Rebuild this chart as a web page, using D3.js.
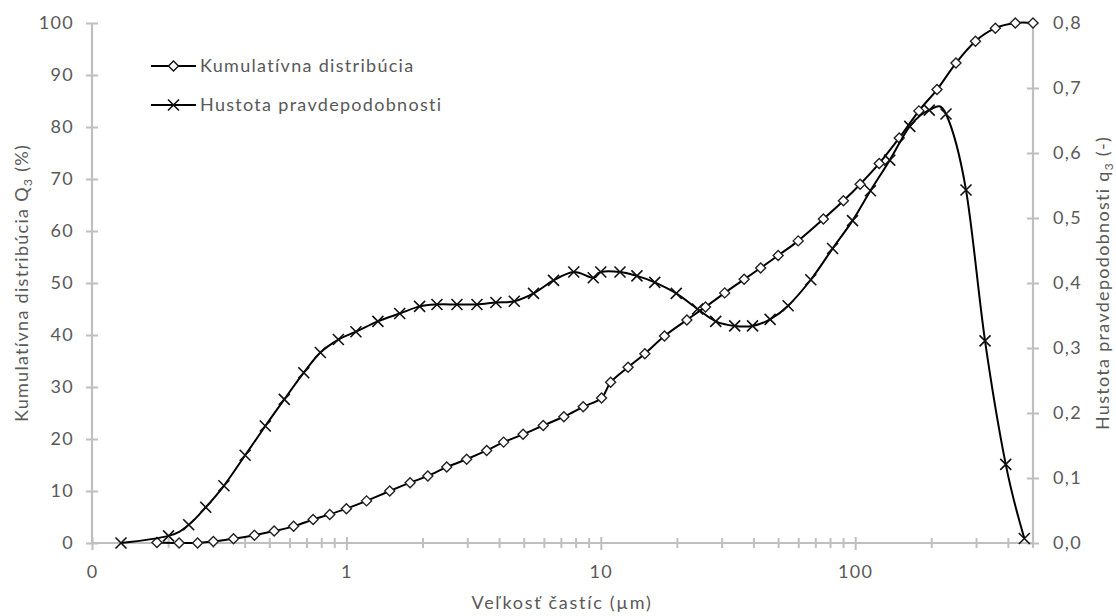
<!DOCTYPE html>
<html>
<head>
<meta charset="utf-8">
<script src="https://cdn.jsdelivr.net/npm/d3@7"></script>
<style>
  body { margin: 0; background: #fff; }
  text { font-family: Lato, "Open Sans", sans-serif; fill: #595959; letter-spacing: 1.3px; }
</style>
</head>
<body>
<svg id="chart" width="1116" height="616"></svg>
<script>
// Cumulative distribution Q3 (%) at each size class (µm)
const cumSize = [0.18, 0.22, 0.26, 0.30, 0.36, 0.435, 0.52, 0.62, 0.74, 0.86, 1.0, 1.2, 1.48, 1.78, 2.09, 2.48, 2.97, 3.56, 4.15, 4.95, 5.94, 7.16, 8.53, 10.07, 10.93, 12.8, 14.9, 17.8, 21.8, 25.8, 30.7, 36.6, 42.5, 49.8, 59.7, 75, 89.9, 104.6, 124.3, 149, 178, 209.7, 249, 297, 355.6, 426, 500];
const cumValue = [0.1, 0.0, 0.0, 0.3, 0.8, 1.5, 2.3, 3.2, 4.5, 5.5, 6.6, 8.1, 10.0, 11.6, 12.9, 14.6, 16.1, 17.8, 19.4, 20.9, 22.6, 24.3, 26.2, 27.9, 30.9, 33.8, 36.4, 39.8, 42.9, 45.4, 48.1, 50.7, 52.9, 55.3, 58.1, 62.3, 65.8, 69.0, 73.0, 77.9, 83.1, 87.2, 92.3, 96.5, 99.0, 100, 100];

// Probability density q3 (-) at mid-class sizes (µm)
const densSize = [0.13, 0.2, 0.24, 0.28, 0.33, 0.40, 0.48, 0.57, 0.68, 0.79, 0.93, 1.09, 1.33, 1.62, 1.94, 2.27, 2.72, 3.26, 3.87, 4.57, 5.44, 6.52, 7.83, 9.34, 10.0, 11.9, 13.87, 16.3, 19.8, 24.0, 28.3, 33.6, 39.5, 46.3, 54.5, 66.9, 81.5, 97.6, 114.8, 136.7, 163.9, 195.5, 227.5, 272.7, 323.9, 390.7, 462.4];
const densValue = [0.0, 0.011, 0.028, 0.055, 0.088, 0.135, 0.18, 0.221, 0.262, 0.293, 0.313, 0.325, 0.341, 0.353, 0.364, 0.367, 0.367, 0.367, 0.370, 0.372, 0.384, 0.404, 0.417, 0.408, 0.417, 0.417, 0.411, 0.401, 0.384, 0.360, 0.341, 0.334, 0.334, 0.344, 0.365, 0.405, 0.453, 0.496, 0.542, 0.589, 0.641, 0.666, 0.660, 0.543, 0.311, 0.121, 0.007];

const xTickValues = [0.1, 1, 10, 100];
const xTickLabels = ["0", "1", "10", "100"];
const leftTicks = [0, 10, 20, 30, 40, 50, 60, 70, 80, 90, 100];
const rightTicks = [0, 0.1, 0.2, 0.3, 0.4, 0.5, 0.6, 0.7, 0.8];

const seriesNames = ["Kumulatívna distribúcia", "Hustota pravdepodobnosti"];

const svg = d3.select("#chart");
const plotLeft = 92, plotRight = 1033, plotTop = 23, plotBottom = 543;
const axisColor = "#bfbfbf";
const fontSize = 18;

const x = d3.scaleLog().domain([0.1, 500]).range([plotLeft, plotRight]);
const yL = d3.scaleLinear().domain([0, 100]).range([plotBottom, plotTop]);
const yR = d3.scaleLinear().domain([0, 0.8]).range([plotBottom, plotTop]);

const commaFmt = d => d3.format(".1f")(d).replace(".", ",");

// Left axis
const gL = svg.append("g").attr("transform", `translate(${plotLeft},0)`)
  .call(d3.axisLeft(yL).tickValues(leftTicks).tickSize(6).tickPadding(12));
// Right axis
const gR = svg.append("g").attr("transform", `translate(${plotRight},0)`)
  .call(d3.axisRight(yR).tickValues(rightTicks).tickSize(6).tickPadding(14).tickFormat(commaFmt));
// Bottom axis: major ticks with labels, minor ticks between
const gB = svg.append("g").attr("transform", `translate(0,${plotBottom})`)
  .call(d3.axisBottom(x).tickValues(xTickValues).tickSize(7).tickPadding(15)
    .tickFormat((d, i) => xTickLabels[i]));
const minor = x.ticks().filter(t => !xTickValues.some(v => Math.abs(v - t) < 1e-9));
gB.selectAll(".minor").data(minor).join("line")
  .attr("class", "minor")
  .attr("x1", d => x(d)).attr("x2", d => x(d))
  .attr("y1", -5).attr("y2", 5);

// Ticks cross the axis line
gL.selectAll(".tick line").attr("x1", 6).attr("x2", -6);
gR.selectAll(".tick line").attr("x1", -6).attr("x2", 6);
gB.selectAll(".tick line").attr("y1", -6).attr("y2", 7);

[gL, gR, gB].forEach(g => {
  g.select(".domain").attr("stroke", axisColor).attr("stroke-width", 2.2);
  g.selectAll("line").attr("stroke", axisColor).attr("stroke-width", 2);
  g.selectAll("text").attr("font-size", fontSize).attr("fill", "#595959")
    .style("font-family", "Lato, 'Open Sans', sans-serif");
});
gL.select(".domain").attr("d", `M0,${plotBottom}V${plotTop}`);
gR.select(".domain").attr("d", `M0,${plotBottom}V${plotTop}`);
gB.select(".domain").attr("d", `M${plotLeft},0H${plotRight}`);

// Axis titles
svg.append("text")
  .attr("transform", `translate(28,${(plotTop + plotBottom) / 2}) rotate(-90)`)
  .attr("text-anchor", "middle").attr("font-size", fontSize)
  .call(t => {
    t.append("tspan").text("Kumulatívna distribúcia Q");
    t.append("tspan").attr("font-size", 12).attr("dy", 4).text("3");
    t.append("tspan").attr("dy", -4).text(" (%)");
  });
svg.append("text")
  .attr("transform", `translate(1109,${(plotTop + plotBottom) / 2}) rotate(-90)`)
  .attr("text-anchor", "middle").attr("font-size", fontSize)
  .call(t => {
    t.append("tspan").text("Hustota pravdepodobnosti q");
    t.append("tspan").attr("font-size", 12).attr("dy", 4).text("3");
    t.append("tspan").attr("dy", -4).text(" (-)");
  });
svg.append("text")
  .attr("x", 562).attr("y", 609)
  .attr("text-anchor", "middle").attr("font-size", fontSize)
  .style("letter-spacing", "1.7px")
  .text("Veľkosť častíc (µm)");

// Marker shapes
const diamondPath = r => `M0,${-r}L${r},0L0,${r}L${-r},0Z`;
const crossPath = r => `M${-r},${-r}L${r},${r}M${-r},${r}L${r},${-r}`;

const smooth = d3.curveCardinal.tension(0);

// Cumulative series
const cumData = cumSize.map((s, i) => [s, cumValue[i]]);
svg.append("path")
  .attr("d", d3.line().x(d => x(d[0])).y(d => yL(d[1])).curve(smooth)(cumData))
  .attr("fill", "none").attr("stroke", "#000").attr("stroke-width", 2);
svg.append("g").selectAll("path").data(cumData).join("path")
  .attr("transform", d => `translate(${x(d[0])},${yL(d[1])})`)
  .attr("d", diamondPath(5))
  .attr("fill", "#fff").attr("stroke", "#222").attr("stroke-width", 1.4);

// Density series (secondary axis)
const densData = densSize.map((s, i) => [s, densValue[i]]);
svg.append("path")
  .attr("d", d3.line().x(d => x(d[0])).y(d => yR(d[1])).curve(smooth)(densData))
  .attr("fill", "none").attr("stroke", "#000").attr("stroke-width", 2);
svg.append("g").selectAll("path").data(densData).join("path")
  .attr("transform", d => `translate(${x(d[0])},${yR(d[1])})`)
  .attr("d", crossPath(5.5))
  .attr("fill", "none").attr("stroke", "#111").attr("stroke-width", 1.6);

// Legend
const legend = svg.append("g");
const legendRows = [66, 105];
legendRows.forEach((ly, i) => {
  legend.append("line").attr("x1", 151).attr("x2", 196).attr("y1", ly).attr("y2", ly)
    .attr("stroke", "#000").attr("stroke-width", 2);
  legend.append("path").attr("transform", `translate(173.5,${ly})`)
    .attr("d", i === 0 ? diamondPath(5) : crossPath(5.5))
    .attr("fill", i === 0 ? "#fff" : "none")
    .attr("stroke", "#111").attr("stroke-width", i === 0 ? 1.4 : 1.6);
  legend.append("text").attr("x", 200).attr("y", ly).attr("dy", "0.35em")
    .attr("font-size", fontSize).text(seriesNames[i]);
});
</script>
</body>
</html>
